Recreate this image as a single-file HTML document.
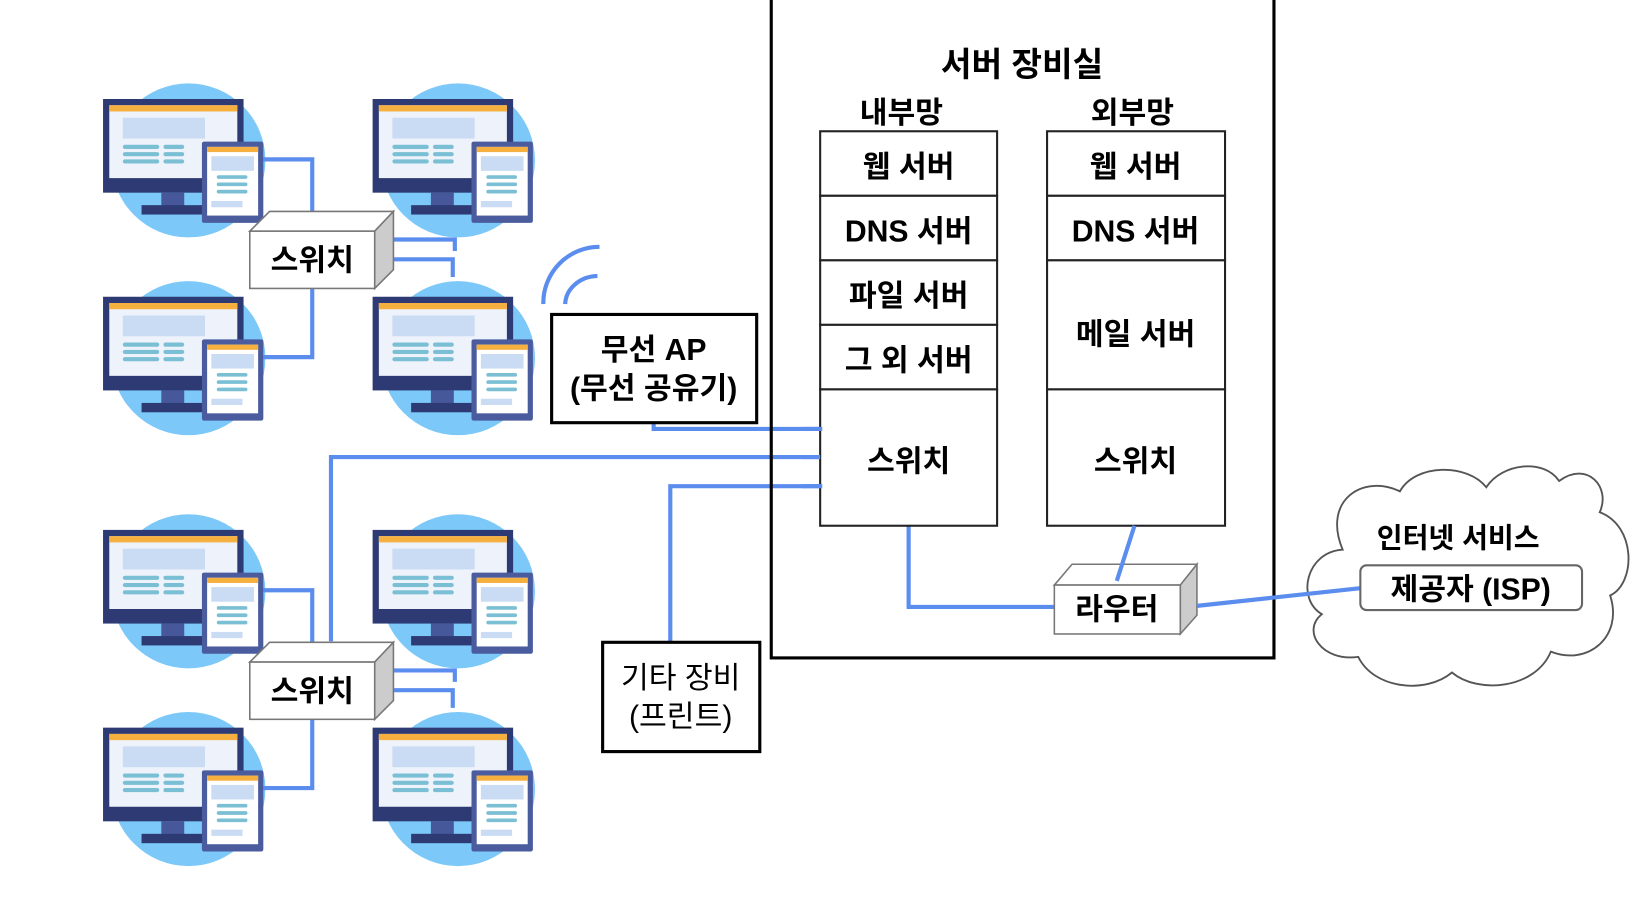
<!DOCTYPE html>
<html><head><meta charset="utf-8"><style>
html,body{margin:0;padding:0;background:#fff;}
svg{display:block;}
text{font-family:"Liberation Sans","Noto Sans CJK KR",sans-serif;fill:#000;text-anchor:middle;}
.b{font-weight:bold;}
</style></head><body>
<svg width="1632" height="912" viewBox="0 0 1568 876" xmlns="http://www.w3.org/2000/svg">
<defs>
<g id="pc">
<circle cx="82" cy="59" r="74" fill="#7cc8f8"/>
<rect x="0" y="0" width="135" height="90" fill="#2e3a73"/>
<rect x="6" y="6" width="123" height="70" fill="#eef3fb"/>
<rect x="6" y="6" width="123" height="6" fill="#f5b040"/>
<rect x="19" y="18" width="79" height="20" fill="#c9dcf3"/>
<g stroke="#7bbfd4" stroke-width="4" stroke-linecap="round">
<line x1="21" y1="46" x2="52" y2="46"/><line x1="60" y1="46" x2="76" y2="46"/>
<line x1="21" y1="53" x2="52" y2="53"/><line x1="60" y1="53" x2="76" y2="53"/>
<line x1="21" y1="60" x2="52" y2="60"/><line x1="60" y1="60" x2="76" y2="60"/>
</g>
<rect x="56" y="90" width="22" height="13" fill="#46579a"/>
<rect x="37" y="102" width="70" height="9" fill="#2e3a73"/>
<rect x="95" y="41" width="59" height="78" rx="2" fill="#4a5c9e"/>
<rect x="100" y="46" width="49" height="66" fill="#fff"/>
<rect x="100" y="46" width="49" height="5" fill="#f5b040"/>
<rect x="104" y="55" width="41" height="14" fill="#c9dcf3"/>
<g stroke="#7bbfd4" stroke-width="3.5" stroke-linecap="round">
<line x1="111" y1="75" x2="137" y2="75"/><line x1="111" y1="82" x2="137" y2="82"/><line x1="111" y1="89" x2="137" y2="89"/>
</g>
<rect x="104" y="98" width="30" height="6" fill="#c9dcf3"/>
</g>
<g id="grp">
<use href="#pc" x="99" y="95"/>
<use href="#pc" x="358" y="95"/>
<use href="#pc" x="99" y="285"/>
<use href="#pc" x="358" y="285"/>
<g stroke="#5b8def" stroke-width="4" fill="none">
<polyline points="253,153 300,153 300,222"/>
<polyline points="300,277 300,343 253,343"/>
<polyline points="378,230 437,230 437,241"/>
<polyline points="360,249 435,249 435,266"/>
</g>
<polygon points="240,222 259,203 378,203 360,222" fill="#fff" stroke="#777" stroke-width="1.5"/>
<polygon points="360,222 378,203 378,259 360,277" fill="#ccc" stroke="#777" stroke-width="1.5"/>
<rect x="240" y="222" width="120" height="55" fill="#fff" stroke="#777" stroke-width="1.5"/>
<text x="300" y="260" class="b" font-size="29">스위치</text>
</g>
</defs>
<use href="#grp"/>
<use href="#grp" y="414"/>

<g stroke="#5b8def" stroke-width="4" fill="none">
<polyline points="628,407 628,412 790,412"/>
<polyline points="318,616 318,439 788,439"/>
<polyline points="644,617 644,467 790,467"/>
<polyline points="873,505 873,583 1013,583"/>
<path d="M522,292 A54,54 0 0 1 576,237"/>
<path d="M543,292 A32,28 0 0 1 574,265"/>
</g>

<rect x="530" y="302" width="197" height="104" fill="#fff" stroke="#000" stroke-width="3"/>
<text x="628" y="346" class="b" font-size="29">무선 AP</text>
<text x="628" y="383" class="b" font-size="29">(무선 공유기)</text>

<rect x="579" y="617" width="151" height="105" fill="#fff" stroke="#000" stroke-width="3"/>
<text x="654" y="661" font-size="29">기타 장비</text>
<text x="654" y="698" font-size="29">(프린트)</text>

<rect x="741" y="-5" width="483" height="637" fill="none" stroke="#000" stroke-width="3"/>
<text x="982" y="73" class="b" font-size="32">서버 장비실</text>
<text x="866" y="118" class="b" font-size="29">내부망</text>
<text x="1088" y="118" class="b" font-size="29">외부망</text>
<g fill="#fff" stroke="#222" stroke-width="2">
<rect x="788" y="126" width="170" height="62"/>
<rect x="788" y="188" width="170" height="62"/>
<rect x="788" y="250" width="170" height="62"/>
<rect x="788" y="312" width="170" height="62"/>
<rect x="788" y="374" width="170" height="131"/>
<rect x="1006" y="126" width="171" height="62"/>
<rect x="1006" y="188" width="171" height="62"/>
<rect x="1006" y="250" width="171" height="124"/>
<rect x="1006" y="374" width="171" height="131"/>
</g>
<g stroke="#5b8def" stroke-width="4">
<line x1="770" y1="412" x2="790" y2="412"/><line x1="770" y1="439" x2="788" y2="439"/><line x1="770" y1="467" x2="790" y2="467"/>
</g>
<text x="873" y="170" class="b" font-size="29">웹 서버</text>
<text x="873" y="232" class="b" font-size="29">DNS 서버</text>
<text x="873" y="294" class="b" font-size="29">파일 서버</text>
<text x="873" y="356" class="b" font-size="29">그 외 서버</text>
<text x="873" y="453" class="b" font-size="29">스위치</text>
<text x="1091" y="170" class="b" font-size="29">웹 서버</text>
<text x="1091" y="232" class="b" font-size="29">DNS 서버</text>
<text x="1091" y="331" class="b" font-size="29">메일 서버</text>
<text x="1091" y="453" class="b" font-size="29">스위치</text>

<polygon points="1013,562 1030,542 1150,542 1134,562" fill="#fff" stroke="#777" stroke-width="1.5"/>
<polygon points="1134,562 1150,542 1150,591 1134,609" fill="#ccc" stroke="#777" stroke-width="1.5"/>
<rect x="1013" y="562" width="121" height="47" fill="#fff" stroke="#777" stroke-width="1.5"/>
<line x1="1090" y1="505" x2="1073" y2="558" stroke="#5b8def" stroke-width="4"/>
<text x="1073" y="595" class="b" font-size="29">라우터</text>

<path d="M1290,528 C1270,480 1310,455 1345,472 C1360,445 1410,445 1428,468 C1443,445 1483,440 1498,462 C1525,442 1548,468 1537,492 C1572,505 1572,560 1547,572 C1560,612 1525,640 1490,626 C1475,662 1420,667 1395,646 C1370,667 1320,662 1305,631 C1270,636 1250,606 1270,590 C1245,575 1255,530 1290,528 Z" fill="#fff" stroke="#555" stroke-width="1.8"/>
<line x1="1150" y1="582" x2="1307" y2="565" stroke="#5b8def" stroke-width="4"/>
<text x="1401" y="526" class="b" font-size="27">인터넷 서비스</text>
<rect x="1307" y="543" width="213" height="43" rx="6" fill="#fff" stroke="#666" stroke-width="2"/>
<text x="1413" y="576" class="b" font-size="29">제공자 (ISP)</text>
</svg>
</body></html>
